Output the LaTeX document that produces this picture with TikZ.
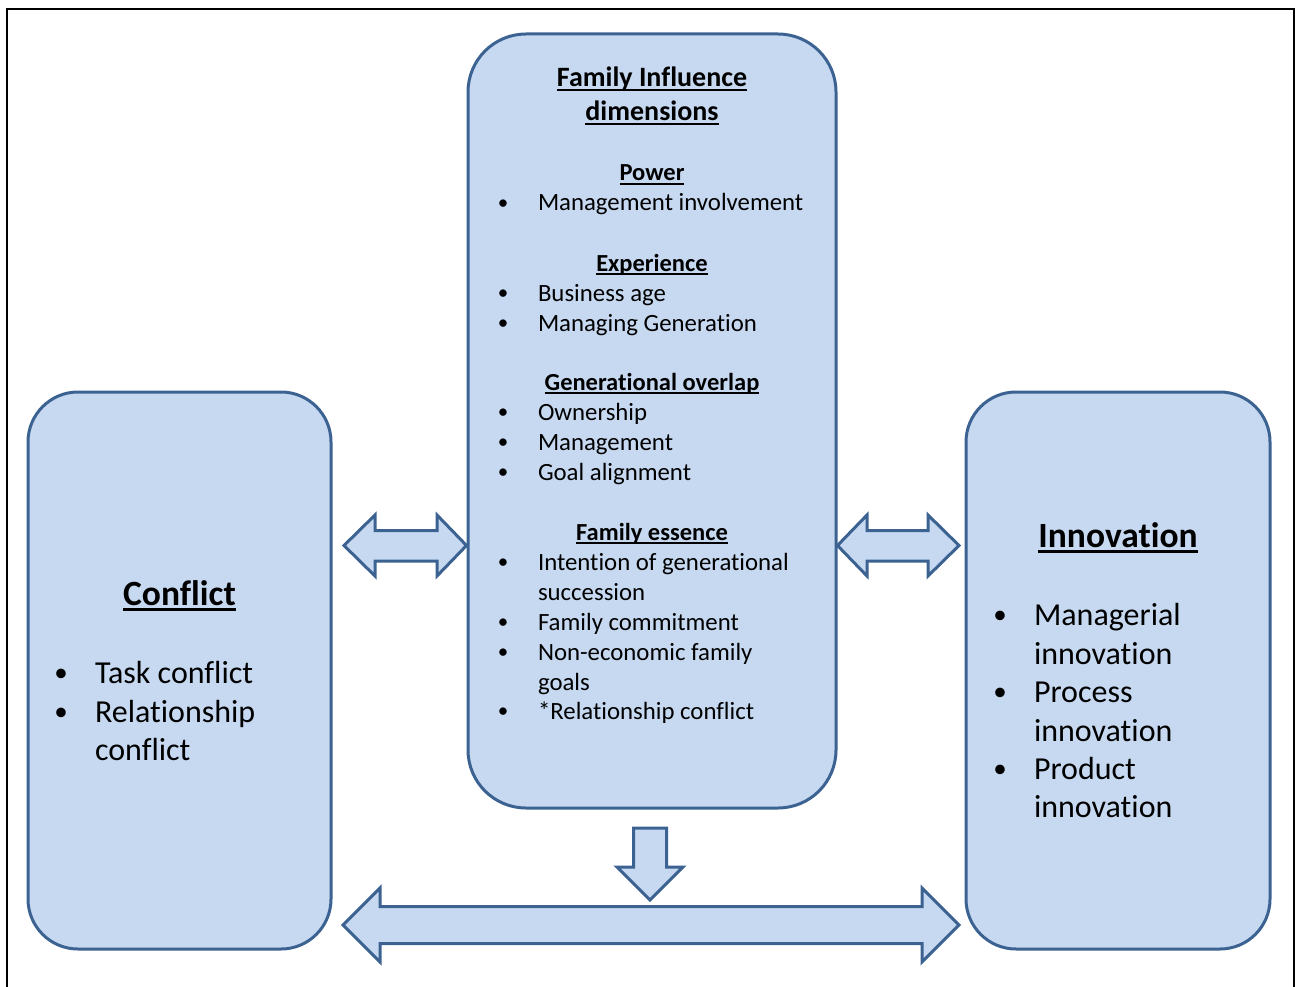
\documentclass[tikz,border=0pt]{standalone}
\usepackage{fontspec}
\setmainfont[Ligatures=NoCommon]{Carlito}
\definecolor{boxfill}{RGB}{198,217,241}
\definecolor{boxline}{RGB}{60,98,146}
% underlined heading with the rule at a fixed depth below the baseline
\newcommand\ulhead[1]{\setbox0\hbox{#1}\rlap{\rule[-0.16em]{\wd0}{0.075em}}\box0}
\tikzset{
  panel/.style={draw=boxline, fill=boxfill, line width=3pt, inner sep=0pt},
  blockarrow/.style={draw=boxline, fill=boxfill, line width=3pt, line join=miter},
  frame/.style={draw=black, line width=2pt},
  txt/.style={inner sep=0pt, outer sep=0pt, anchor=base west},
  ctr/.style={inner sep=0pt, outer sep=0pt, anchor=base},
  small/.style={font=\fontsize{24.8}{30}\selectfont},
  smallbul/.style={font=\fontsize{21}{30}\selectfont},
  smallhd/.style={font=\bfseries\fontsize{24.5}{30}\selectfont},
  midhd/.style={font=\bfseries\fontsize{28}{34}\selectfont},
  big/.style={font=\fontsize{32}{38.5}\selectfont},
  bigbul/.style={font=\fontsize{27}{38.5}\selectfont},
  bighd/.style={font=\bfseries\fontsize{35.5}{42}\selectfont},
}
\begin{document}
\begin{tikzpicture}[x=1pt,y=-1pt]
\useasboundingbox (0,0) rectangle (1295,987);
% outer frame
\draw[frame] (7,987) -- (7,9) -- (1294,9) -- (1294,987);

% the three panels
\node[panel, rounded corners=50pt, minimum width=303pt, minimum height=557pt] (conflict) at (179.5,670.5) {};
\node[panel, rounded corners=58pt, minimum width=368pt, minimum height=774pt] (family) at (652,421) {};
\node[panel, rounded corners=50pt, minimum width=304pt, minimum height=557pt] (innov) at (1118,670.5) {};

% block arrows between the panels
\draw[blockarrow] (344,545.5) -- (375,515) -- (375,530.5) -- (437,530.5) -- (437,515)
  -- (family.west |- 0,545.5) -- (437,576) -- (437,561) -- (375,561) -- (375,576) -- cycle;
\draw[blockarrow] (family.east |- 0,545.5) -- (867,515) -- (867,530.5) -- (928,530.5) -- (928,515)
  -- (959,545.5) -- (928,576) -- (928,561) -- (867,561) -- (867,576) -- cycle;
\draw[blockarrow] (633.5,828) -- (666.5,828) -- (666.5,867) -- (683,867) -- (650,900)
  -- (617,867) -- (633.5,867) -- cycle;
\draw[blockarrow] (343,925) -- (380,888) -- (380,906.5) -- (922,906.5) -- (922,888)
  -- (959,925) -- (922,962) -- (922,943.5) -- (380,943.5) -- (380,962) -- cycle;

% family influence panel
\node[ctr, midhd] (fhd1) at (652,87) {\ulhead{Family Influence}};
\node[ctr, midhd] (fhd2) at (652,121) {\ulhead{dimensions}};

\node[ctr, smallhd] (pow) at (652,181) {\ulhead{Power}};
\node[ctr, smallbul] (b1) at (503,209.5) {•};
\node[txt, small] (t1) at (538,211) {Management involvement};

\node[ctr, smallhd] (exp) at (652,271) {\ulhead{Experience}};
\node[ctr, smallbul] (b2) at (503,299.5) {•};
\node[txt, small] (t2) at (538,301) {Business age};
\node[ctr, smallbul] (b3) at (503,329.5) {•};
\node[txt, small] (t3) at (538,331) {Managing Generation};

\node[ctr, smallhd] (gen) at (652,390) {\ulhead{Generational overlap}};
\node[ctr, smallbul] (b4) at (503,418.5) {•};
\node[txt, small] (t4) at (538,420) {Ownership};
\node[ctr, smallbul] (b5) at (503,448.5) {•};
\node[txt, small] (t5) at (538,450) {Management};
\node[ctr, smallbul] (b6) at (503,478.5) {•};
\node[txt, small] (t6) at (538,480) {Goal alignment};

\node[ctr, smallhd] (ess) at (652,540) {\ulhead{Family essence}};
\node[ctr, smallbul] (b7) at (503,568.5) {•};
\node[txt, small] (t7) at (538,570) {Intention of generational};
\node[txt, small] (t7b) at (538,600) {succession};
\node[ctr, smallbul] (b8) at (503,628.5) {•};
\node[txt, small] (t8) at (538,630) {Family commitment};
\node[ctr, smallbul] (b9) at (503,658.5) {•};
\node[txt, small] (t9) at (538,660) {Non-economic family};
\node[txt, small] (t9b) at (538,690) {goals};
\node[ctr, smallbul] (b10) at (503,717.5) {•};
\node[txt, small] (t10) at (538,719) {*Relationship conflict};

% conflict panel
\node[ctr, bighd] (chd) at (179.5,605) {\ulhead{Conflict}};
\node[ctr, bigbul] (cb1) at (61,681) {•};
\node[txt, big] (ct1) at (95,683) {Task conflict};
\node[ctr, bigbul] (cb2) at (61,720) {•};
\node[txt, big] (ct2) at (95,722) {Relationship};
\node[txt, big] (ct2b) at (95,760) {conflict};

% innovation panel
\node[ctr, bighd] (ihd) at (1118,547) {\ulhead{Innovation}};
\node[ctr, bigbul] (ib1) at (1000,623) {•};
\node[txt, big] (it1) at (1034,625) {Managerial};
\node[txt, big] (it1b) at (1034,664) {innovation};
\node[ctr, bigbul] (ib2) at (1000,700) {•};
\node[txt, big] (it2) at (1034,702) {Process};
\node[txt, big] (it2b) at (1034,741) {innovation};
\node[ctr, bigbul] (ib3) at (1000,777) {•};
\node[txt, big] (it3) at (1034,779) {Product};
\node[txt, big] (it3b) at (1034,817) {innovation};
\end{tikzpicture}
\end{document}
